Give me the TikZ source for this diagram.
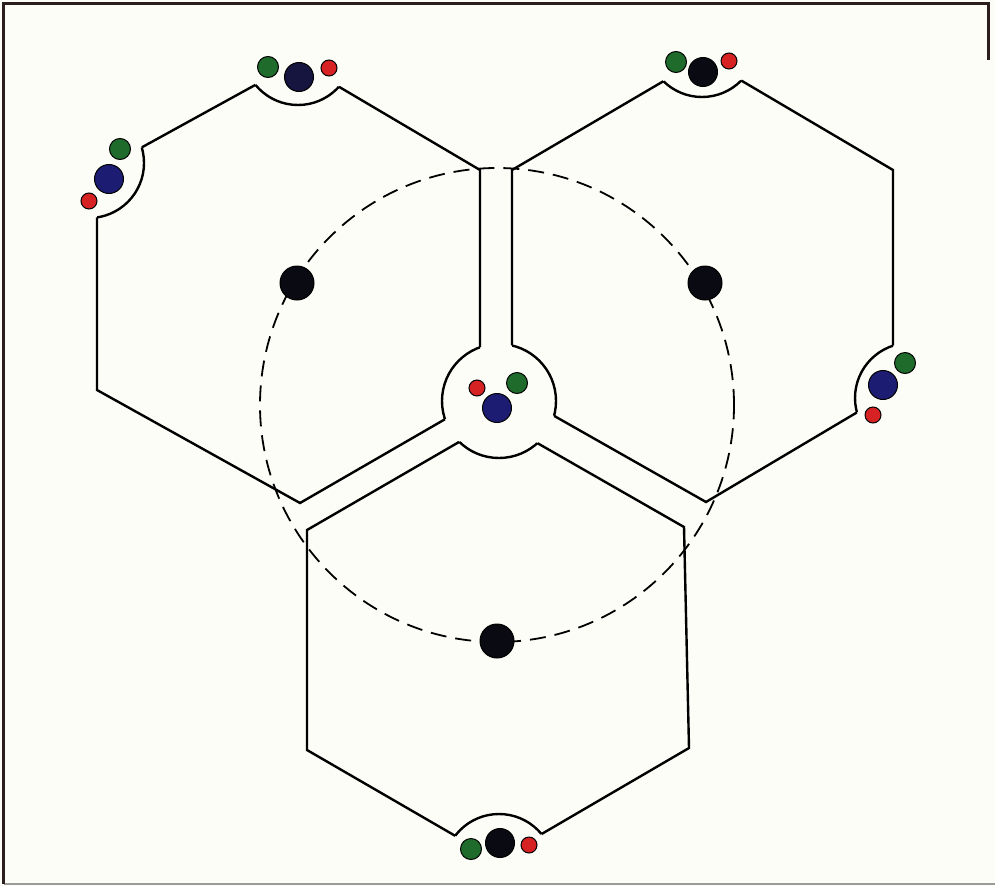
\documentclass[tikz,border=0pt]{standalone}
\usetikzlibrary{calc}
\definecolor{dotgreen}{HTML}{1F6B2B}
\definecolor{dotred}{HTML}{D62222}
\definecolor{dotblue}{HTML}{1C1C72}
\definecolor{dotnavy}{HTML}{15153F}
\definecolor{dotblack}{HTML}{0A0A12}
\definecolor{framecol}{HTML}{2B1E1C}
\definecolor{framegray}{HTML}{9A9A9A}
\definecolor{paper}{HTML}{FDFDF7}
\tikzset{
  hexline/.style={line width=2.4pt, black, line join=miter},
  ringline/.style={line width=1.8pt, black, dash pattern=on 16pt off 9pt},
  framebox/.style={line width=3pt, framecol},
  framelow/.style={line width=2pt, framegray},
  dotbase/.style={circle, draw=black, line width=1pt, inner sep=0pt},
  gdot/.style={dotbase, fill=dotgreen, minimum size=21pt},
  rdot/.style={dotbase, fill=dotred, minimum size=16pt},
  bdot/.style={dotbase, fill=dotblue, minimum size=29pt},
  ndot/.style={dotbase, fill=dotnavy, minimum size=29pt},
  kdot/.style={dotbase, fill=dotblack, minimum size=29pt},
  cdot/.style={dotbase, fill=dotblack, minimum size=34pt},
}
\begin{document}
\begin{tikzpicture}[x=1pt, y=-1pt]
\useasboundingbox (0,0) rectangle (995,886);
\fill[paper] (0,0) rectangle (995,886);
\coordinate (F1) at (3.5,884);
\coordinate (F2) at (3.5,3.5);
\coordinate (F3) at (988,3.5);
\coordinate (F4) at (988,60);
\coordinate (F5) at (995,884);
\draw[framelow] (F1) -- (F5);
\draw[framebox] (F1) -- (F2) -- (F3) -- (F4);

% notch centres
\coordinate (NC)  at (499,401);
\coordinate (NLT) at (298,50);
\coordinate (NLL) at (89,163);
\coordinate (NRT) at (702,42);
\coordinate (NRR) at (910,398);
\coordinate (NB)  at (499,869);

% left hexagon
\coordinate (L1) at (297,62);
\coordinate (L2) at (480,170);
\coordinate (L3) at (480,399);
\coordinate (L4) at (300,503);
\coordinate (L5) at (97,390);
\coordinate (L6) at (97,172);
% right hexagon
\coordinate (R1) at (703,58);
\coordinate (R2) at (893,170);
\coordinate (R3) at (893,391);
\coordinate (R4) at (706,502);
\coordinate (R5) at (512,392);
\coordinate (R6) at (512,170);
% bottom hexagon
\coordinate (B1) at (497,420);
\coordinate (B2) at (684,527);
\coordinate (B3) at (689,748);
\coordinate (B4) at (497,860);
\coordinate (B5) at (307,750);
\coordinate (B6) at (307,530);

% outlines outside the notches
\begin{scope}[even odd rule]
  \clip (-10,-10) rectangle (1005,896)
    (NC) circle (57pt) (NLT) circle (55pt) (NLL) circle (55pt)
    (NRT) circle (55pt) (NRR) circle (55pt) (NB) circle (55pt);
  \draw[hexline] (L1) -- (L2) -- (L3) -- (L4) -- (L5) -- (L6) -- cycle;
  \draw[hexline] (R1) -- (R2) -- (R3) -- (R4) -- (R5) -- (R6) -- cycle;
  \draw[hexline] (B1) -- (B2) -- (B3) -- (B4) -- (B5) -- (B6) -- cycle;
\end{scope}
% notch arcs inside each hexagon
\begin{scope}
  \clip (L1) -- (L2) -- (L3) -- (L4) -- (L5) -- (L6) -- cycle;
  \draw[hexline] (NLT) circle (55pt) (NLL) circle (55pt) (NC) circle (57pt);
\end{scope}
\begin{scope}
  \clip (R1) -- (R2) -- (R3) -- (R4) -- (R5) -- (R6) -- cycle;
  \draw[hexline] (NRT) circle (55pt) (NRR) circle (55pt) (NC) circle (57pt);
\end{scope}
\begin{scope}
  \clip (B1) -- (B2) -- (B3) -- (B4) -- (B5) -- (B6) -- cycle;
  \draw[hexline] (NB) circle (55pt) (NC) circle (57pt);
\end{scope}

% dashed circle through the hexagon centres
\coordinate (O) at (497,405);
\draw[ringline] (O) circle (237pt);

% hexagon centre dots
\node[cdot] (cl) at (297,283) {};
\node[cdot] (cr) at (705,283) {};
\node[cdot] (cb) at (497,641) {};

% dots in the notches
\node[gdot] (g1) at (268,67) {};
\node[ndot] (b1) at (299,77) {};
\node[rdot] (r1) at (329,68) {};

\node[gdot] (g2) at (120,149) {};
\node[bdot] (b2) at (109,179) {};
\node[rdot] (r2) at (89,201) {};

\node[gdot] (g3) at (676,62) {};
\node[kdot] (b3) at (703,72) {};
\node[rdot] (r3) at (729,61) {};

\node[gdot] (g4) at (905,363) {};
\node[bdot] (b4) at (883,385) {};
\node[rdot] (r4) at (873,415) {};

\node[gdot] (g5) at (471,849) {};
\node[kdot] (b5) at (500,843) {};
\node[rdot] (r5) at (529,845) {};

\node[rdot] (r6) at (477,388) {};
\node[gdot] (g6) at (517,383) {};
\node[bdot] (b6) at (497,408) {};
\end{tikzpicture}
\end{document}
